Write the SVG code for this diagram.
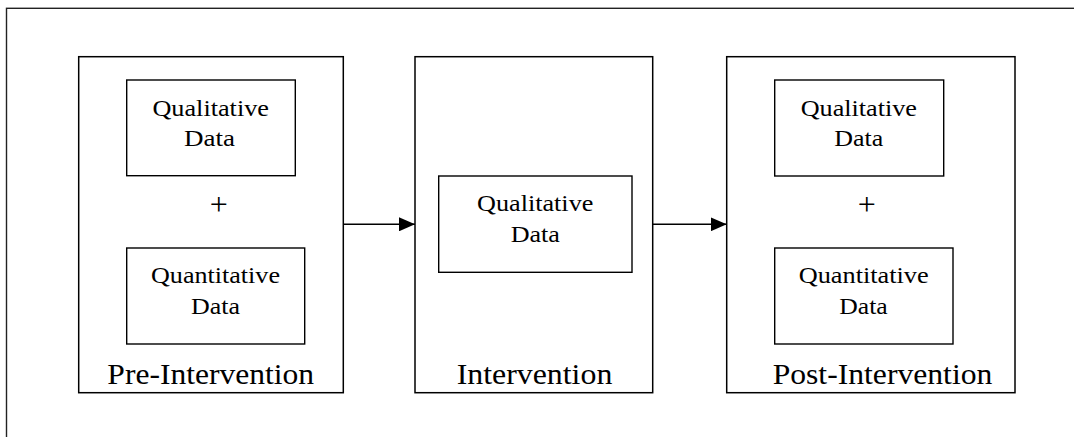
<svg xmlns="http://www.w3.org/2000/svg" width="1074" height="437" viewBox="0 0 1074 437">
<style>
.frame{fill:none;stroke:#222;stroke-width:1.4}
.panel{fill:#fff;stroke:#000;stroke-width:1.5}
.box{fill:#fff;stroke:#000;stroke-width:1.4}
text{font-family:'Liberation Serif','Times New Roman',Times,serif;fill:#000;text-anchor:middle}
.t{font-size:24px}
.big{font-size:30px}
.plus{font-size:32px}
.conn{stroke:#000;stroke-width:1.5;fill:none}
</style>
<defs>
<marker id="ah2" viewBox="0 0 16 14" refX="16" refY="7" markerWidth="16" markerHeight="14" markerUnits="userSpaceOnUse" orient="auto">
<path d="M0,0 L16,7 L0,14 Z" fill="#000"/>
</marker>
</defs>
<rect width="1074" height="437" fill="#fff"/>
<rect class="frame" x="6.5" y="8.3" width="1100" height="460"/>

<g id="pre">
<rect class="panel" x="78.7" y="56.7" width="264.6" height="336"/>
<g id="pre-qual">
<rect class="box" x="126.7" y="80" width="168.6" height="95.7"/>
<text class="t" x="210.7" y="115.7" textLength="116.5" lengthAdjust="spacingAndGlyphs" font-family="Liberation Serif">Qualitative</text>
<text class="t" x="209.5" y="145.7" textLength="51" lengthAdjust="spacingAndGlyphs" font-family="Liberation Serif">Data</text>
</g>
<text class="plus" x="218.7" y="215" font-family="Liberation Serif">+</text>
<g id="pre-quant">
<rect class="box" x="126.7" y="248" width="178" height="96"/>
<text class="t" x="215.5" y="282.7" textLength="129" lengthAdjust="spacingAndGlyphs" font-family="Liberation Serif">Quantitative</text>
<text class="t" x="215.5" y="314" textLength="49" lengthAdjust="spacingAndGlyphs" font-family="Liberation Serif">Data</text>
</g>
<text class="big" x="210.7" y="384.3" textLength="206.7" lengthAdjust="spacingAndGlyphs" font-family="Liberation Serif">Pre-Intervention</text>
</g>

<g id="intervention">
<rect class="panel" x="415" y="56.7" width="237.7" height="336"/>
<g id="int-qual">
<rect class="box" x="438.7" y="176" width="193.3" height="96.3"/>
<text class="t" x="535.2" y="211" textLength="116.3" lengthAdjust="spacingAndGlyphs" font-family="Liberation Serif">Qualitative</text>
<text class="t" x="535.3" y="241.7" textLength="49.3" lengthAdjust="spacingAndGlyphs" font-family="Liberation Serif">Data</text>
</g>
<text class="big" x="534.5" y="384.3" textLength="155.7" lengthAdjust="spacingAndGlyphs" font-family="Liberation Serif">Intervention</text>
</g>

<g id="post">
<rect class="panel" x="726.7" y="56.7" width="288.3" height="336"/>
<g id="post-qual">
<rect class="box" x="774.7" y="80" width="169" height="96"/>
<text class="t" x="858.8" y="115.7" textLength="116.3" lengthAdjust="spacingAndGlyphs" font-family="Liberation Serif">Qualitative</text>
<text class="t" x="858.8" y="145.7" textLength="49" lengthAdjust="spacingAndGlyphs" font-family="Liberation Serif">Data</text>
</g>
<text class="plus" x="866.7" y="215" font-family="Liberation Serif">+</text>
<g id="post-quant">
<rect class="box" x="774.7" y="248" width="178.3" height="96"/>
<text class="t" x="863.7" y="282.7" textLength="130" lengthAdjust="spacingAndGlyphs" font-family="Liberation Serif">Quantitative</text>
<text class="t" x="863.5" y="314" textLength="48.4" lengthAdjust="spacingAndGlyphs" font-family="Liberation Serif">Data</text>
</g>
<text class="big" x="882.5" y="384.3" textLength="219.7" lengthAdjust="spacingAndGlyphs" font-family="Liberation Serif">Post-Intervention</text>
</g>

<g id="connectors">
<line class="conn" x1="343.3" y1="224.3" x2="415" y2="224.3" marker-end="url(#ah2)"/>
<line class="conn" x1="652.7" y1="224.3" x2="726.7" y2="224.3" marker-end="url(#ah2)"/>
</g>
</svg>
